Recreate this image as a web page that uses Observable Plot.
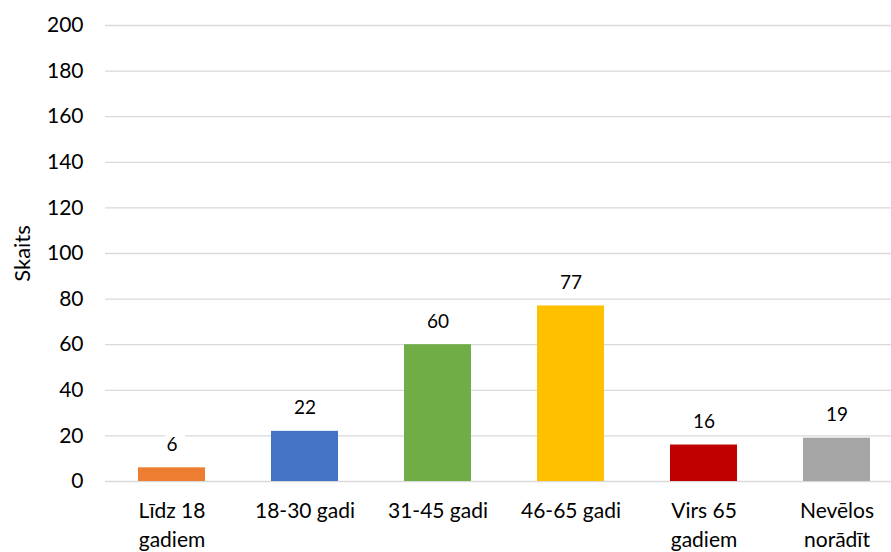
<!DOCTYPE html>
<html>
<head>
<meta charset="utf-8">
<script src="https://cdn.jsdelivr.net/npm/d3@7"></script>
<script src="https://cdn.jsdelivr.net/npm/@observablehq/plot@0.6"></script>
<style>
  html, body { margin: 0; padding: 0; background: #fff; overflow: hidden; }
  #chart { width: 891px; height: 552px; }
</style>
</head>
<body>
<div id="chart"></div>
<script>
const categories = ["Līdz 18\ngadiem", "18-30 gadi", "31-45 gadi", "46-65 gadi", "Virs 65\ngadiem", "Nevēlos\nnorādīt"];
const values = [6, 22, 60, 77, 16, 19];
const colors = ["#ED7D31", "#4472C4", "#70AD47", "#FFC000", "#C00000", "#A5A5A5"];
const yTicks = [0, 20, 40, 60, 80, 100, 120, 140, 160, 180, 200];
const yLabel = "Skaits";

const data = categories.map((c, i) => ({cat: c, value: values[i], color: colors[i]}));

const chart = Plot.plot({
  width: 891,
  height: 552,
  marginLeft: 105,
  marginRight: 0,
  marginTop: 25,
  marginBottom: 71,
  style: {fontFamily: "Lato, 'Open Sans', sans-serif", fontSize: "21px", color: "#000", background: "#fff", overflow: "hidden"},
  x: {domain: categories, range: [105, 903], paddingInner: 0.5, paddingOuter: 0.25},
  y: {domain: [0, 200]},
  marks: [
    Plot.ruleY(yTicks, {stroke: "#D9D9D9", strokeWidth: 1.3}),
    Plot.barY(data, {x: "cat", y: "value", fill: "color"}),
    Plot.text(data, {x: "cat", y: "value", text: d => String(d.value), dy: -23, fontSize: 19, fill: "#000", stroke: "white", strokeWidth: 14, strokeLinejoin: "miter"}),
    Plot.axisY({ticks: yTicks, tickSize: 0, tickPadding: 22, label: null, fontSize: 21}),
    Plot.axisX({tickSize: 0, tickPadding: 16, label: null, fontSize: 21, lineHeight: 1.38}),
    Plot.text([yLabel], {frameAnchor: "left", textAnchor: "middle", dx: -83, rotate: -90, fontSize: 22, fill: "#000"})
  ]
});
document.getElementById("chart").appendChild(chart);
</script>
</body>
</html>
